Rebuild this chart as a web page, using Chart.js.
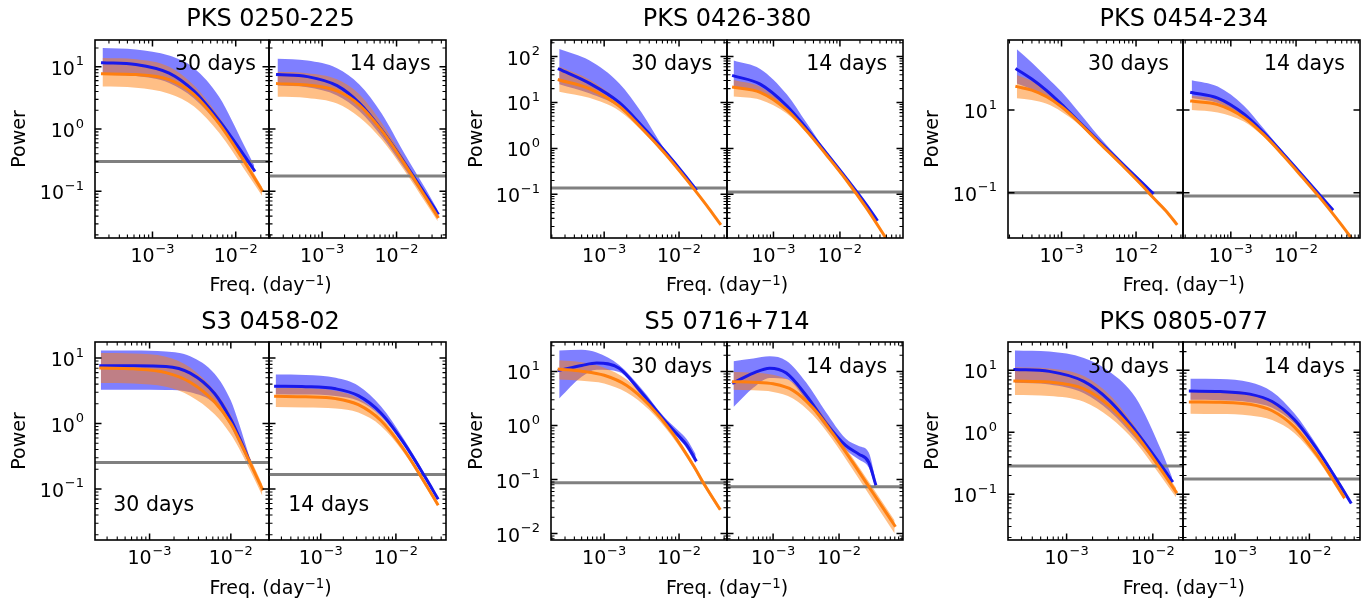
<!DOCTYPE html>
<html><head><meta charset="utf-8">
<script src="https://cdn.jsdelivr.net/npm/chart.js@4.4.1/dist/chart.umd.min.js"></script>
<style>
body{margin:0;background:#fff;width:1369px;height:608px;overflow:hidden;position:relative;font-family:'DejaVu Sans',sans-serif;}
canvas{position:absolute;}
.t{position:absolute;white-space:nowrap;line-height:1;color:#000;font-family:'DejaVu Sans',sans-serif;}
.sup{position:relative;top:-0.45em;font-size:0.7em;}
</style></head><body>
<script>
// ---------------- DATA ----------------
const xTickValues = [1e-3, 1e-2];
const g1_yTicks = [0.1, 1, 10];
const g2_yTicks = [0.1, 1, 10, 100];
const g3_yTicks = [0.1, 10];
const g4_yTicks = [0.1, 1, 10];
const g5_yTicks = [0.01, 0.1, 1, 10];
const g6_yTicks = [0.1, 1, 10];
const titles = ['PKS 0250-225', 'PKS 0426-380', 'PKS 0454-234', 'S3 0458-02', 'S5 0716+714', 'PKS 0805-077'];
const binLabels = ['30 days', '14 days'];

// PKS 0250-225, 30 days
const g1_30_fB = [0.000251, 0.000631, 0.001585, 0.00316, 0.00631, 0.0126, 0.01667];
const g1_30_blue = [11.6, 10.9, 7.9, 4.05, 1.37, 0.377, 0.218];
const g1_30_blueHi = [20, 19, 15.1, 9.5, 3.3, 0.55, 0.26];
const g1_30_blueLo = [7.4, 7.1, 5.5, 3.1, 1.15, 0.33, 0.20];
const g1_30_fO = [0.000251, 0.000631, 0.001585, 0.00316, 0.00631, 0.0126, 0.0207];
const g1_30_orange = [7.7, 7.5, 6.2, 3.57, 1.22, 0.304, 0.104];
const g1_30_orangeHi = [13.8, 13.2, 10, 5.0, 1.58, 0.363, 0.117];
const g1_30_orangeLo = [4.8, 4.6, 3.7, 2.3, 0.87, 0.229, 0.085];
const g1_30_noise = 0.30;
// PKS 0250-225, 14 days
const g1_14_fB = [0.000251, 0.000631, 0.001585, 0.00316, 0.00631, 0.0126, 0.0251, 0.0357];
const g1_14_blue = [7.5, 6.95, 4.97, 2.61, 0.966, 0.296, 0.085, 0.0445];
const g1_14_blueHi = [13.5, 12.6, 9.5, 5.2, 1.78, 0.417, 0.105, 0.050];
const g1_14_blueLo = [5.0, 4.7, 3.47, 1.95, 0.76, 0.24, 0.072, 0.040];
const g1_14_fO = [0.000251, 0.000631, 0.001585, 0.00316, 0.00631, 0.0126, 0.0251, 0.0357];
const g1_14_orange = [5.35, 5.1, 4.1, 2.43, 0.95, 0.284, 0.077, 0.039];
const g1_14_orangeHi = [8.3, 7.9, 6.3, 3.63, 1.26, 0.34, 0.087, 0.044];
const g1_14_orangeLo = [3.3, 3.16, 2.57, 1.55, 0.68, 0.219, 0.063, 0.033];
const g1_14_noise = 0.177;

// PKS 0426-380, 30 days
const g2_30_fB = [0.000251, 0.000631, 0.001585, 0.00316, 0.00631, 0.0126, 0.01667];
const g2_30_blue = [53.1, 26.3, 10, 3.16, 0.912, 0.234, 0.129];
const g2_30_blueHi = [146, 83, 26.3, 6.03, 1.0, 0.24, 0.133];
const g2_30_blueLo = [24.8, 15.8, 7.94, 2.82, 0.851, 0.219, 0.12];
const g2_30_fO = [0.000251, 0.000631, 0.001585, 0.00316, 0.00631, 0.0126, 0.01667, 0.0251, 0.0352];
const g2_30_orange = [30.9, 20, 8.3, 2.75, 0.813, 0.209, 0.117, 0.049, 0.0229];
const g2_30_orangeHi = [60.3, 31.6, 10.5, 3.09, 0.871, 0.224, 0.126, 0.0525, 0.0245];
const g2_30_orangeLo = [17.2, 12.6, 6.6, 2.45, 0.759, 0.195, 0.11, 0.0457, 0.0214];
const g2_30_noise = 0.137;
// PKS 0426-380, 14 days
const g2_14_fB = [0.000251, 0.000631, 0.001585, 0.00316, 0.00631, 0.0126, 0.0251, 0.0357];
const g2_14_blue = [38, 25.1, 8.5, 2.69, 0.776, 0.219, 0.059, 0.0282];
const g2_14_blueHi = [82, 53.7, 15.1, 3.55, 0.83, 0.226, 0.061, 0.029];
const g2_14_blueLo = [21.4, 16.6, 6.9, 2.4, 0.72, 0.204, 0.055, 0.0263];
const g2_14_fO = [0.000251, 0.000631, 0.001585, 0.00316, 0.00631, 0.0126, 0.0251, 0.0501, 0.0708];
const g2_14_orange = [21.4, 16.6, 6.9, 2.4, 0.71, 0.20, 0.050, 0.0107, 0.005];
const g2_14_orangeHi = [30.9, 21.9, 7.9, 2.57, 0.76, 0.214, 0.054, 0.0115, 0.0054];
const g2_14_orangeLo = [13.5, 11.5, 5.75, 2.19, 0.66, 0.186, 0.047, 0.010, 0.0047];
const g2_14_noise = 0.112;

// PKS 0454-234, 30 days
const g3_30_fB = [0.000251, 0.000398, 0.000631, 0.001, 0.001585, 0.00316, 0.00631, 0.0126, 0.01667];
const g3_30_blue = [95.5, 56, 29.5, 13.8, 6.0, 1.78, 0.537, 0.162, 0.10];
const g3_30_blueHi = [295, 141, 63, 27.5, 10.5, 2.34, 0.603, 0.174, 0.107];
const g3_30_blueLo = [43.6, 31.6, 20.9, 11, 5.4, 1.66, 0.50, 0.151, 0.093];
const g3_30_fO = [0.000251, 0.000398, 0.000631, 0.001, 0.001585, 0.00316, 0.00631, 0.0126, 0.01667, 0.0251, 0.0347];
const g3_30_orange = [36.7, 30.2, 20.9, 12, 5.75, 1.66, 0.49, 0.138, 0.079, 0.037, 0.018];
const g3_30_orangeHi = [70, 50, 28.8, 14.8, 6.5, 1.78, 0.525, 0.148, 0.085, 0.040, 0.0195];
const g3_30_orangeLo = [19.3, 17.4, 14.1, 9.1, 5.0, 1.55, 0.457, 0.129, 0.074, 0.035, 0.017];
const g3_30_noise = 0.10;
// PKS 0454-234, 14 days
const g3_14_fB = [0.000251, 0.000631, 0.001585, 0.00316, 0.00631, 0.0126, 0.0251, 0.0357];
const g3_14_blue = [26.4, 19.3, 8.0, 2.88, 0.895, 0.264, 0.0766, 0.0407];
const g3_14_blueHi = [52.5, 36.8, 12.7, 3.63, 0.98, 0.283, 0.082, 0.0437];
const g3_14_blueLo = [19.5, 14.8, 6.6, 2.63, 0.83, 0.245, 0.071, 0.038];
const g3_14_fO = [0.000251, 0.000631, 0.001585, 0.00316, 0.00631, 0.0126, 0.0251, 0.0501, 0.0724];
const g3_14_orange = [16.4, 13.5, 6.6, 2.57, 0.81, 0.234, 0.066, 0.0166, 0.0076];
const g3_14_orangeHi = [22.1, 17.8, 7.6, 2.75, 0.87, 0.25, 0.071, 0.0178, 0.0081];
const g3_14_orangeLo = [10, 8.7, 5.25, 2.29, 0.76, 0.219, 0.062, 0.0155, 0.0071];
const g3_14_noise = 0.0845;

// S3 0458-02, 30 days
const g4_30_fB = [0.000251, 0.000631, 0.001585, 0.00316, 0.00631, 0.01, 0.0126, 0.01667];
const g4_30_blue = [7.64, 7.62, 7.46, 5.9, 2.88, 1.15, 0.625, 0.282];
const g4_30_blueHi = [13.1, 13.0, 12.6, 10.7, 5.75, 2.24, 1.0, 0.33];
const g4_30_blueLo = [3.27, 3.27, 3.24, 3.0, 2.0, 0.89, 0.50, 0.25];
const g4_30_fO = [0.000251, 0.000631, 0.001585, 0.00316, 0.00631, 0.01, 0.0126, 0.01667, 0.0244];
const g4_30_orange = [7.03, 6.84, 6.0, 4.27, 2.14, 1.0, 0.575, 0.275, 0.10];
const g4_30_orangeHi = [11.9, 11.7, 10.5, 7.2, 3.16, 1.35, 0.72, 0.33, 0.117];
const g4_30_orangeLo = [4.17, 4.07, 3.63, 2.63, 1.38, 0.68, 0.42, 0.21, 0.079];
const g4_30_noise = 0.253;
// S3 0458-02, 14 days
const g4_14_fB = [0.000251, 0.000631, 0.001585, 0.00316, 0.00631, 0.0126, 0.0251, 0.0357];
const g4_14_blue = [3.71, 3.66, 3.39, 2.67, 1.45, 0.515, 0.145, 0.0728];
const g4_14_blueHi = [5.6, 5.53, 5.0, 3.78, 1.83, 0.59, 0.158, 0.078];
const g4_14_blueLo = [2.81, 2.77, 2.63, 2.22, 1.29, 0.47, 0.135, 0.068];
const g4_14_fO = [0.000251, 0.000631, 0.001585, 0.00316, 0.00631, 0.0126, 0.0251, 0.0357];
const g4_14_orange = [2.6, 2.56, 2.4, 1.94, 1.11, 0.408, 0.116, 0.059];
const g4_14_orangeHi = [3.5, 3.46, 3.16, 2.44, 1.3, 0.458, 0.127, 0.063];
const g4_14_orangeLo = [1.78, 1.75, 1.7, 1.47, 0.92, 0.364, 0.106, 0.054];
const g4_14_noise = 0.166;

// S5 0716+714, 30 days
const g5_30_fB = [0.000251, 0.000501, 0.000794, 0.001585, 0.00316, 0.00631, 0.01, 0.0126, 0.01667];
const g5_30_blue = [10.5, 12.9, 14.3, 11.5, 4.07, 1.26, 0.63, 0.436, 0.229];
const g5_30_blueHi = [24.5, 25.1, 22.4, 13.2, 4.8, 1.45, 0.78, 0.56, 0.295];
const g5_30_blueLo = [3.16, 7.94, 10.7, 9.8, 3.55, 1.12, 0.56, 0.38, 0.20];
const g5_30_fO = [0.000251, 0.000501, 0.001, 0.002, 0.00398, 0.00794, 0.01585, 0.0207, 0.0347];
const g5_30_orange = [11.0, 10.1, 8.5, 5.5, 2.4, 0.76, 0.174, 0.091, 0.029];
const g5_30_orangeHi = [16.2, 14.8, 11.7, 7.1, 2.82, 0.83, 0.19, 0.1, 0.0316];
const g5_30_orangeLo = [7.1, 6.76, 6.0, 4.07, 1.95, 0.645, 0.155, 0.081, 0.026];
const g5_30_noise = 0.087;
// S5 0716+714, 14 days
const g5_14_fB = [0.000251, 0.000501, 0.000891, 0.001585, 0.00316, 0.00631, 0.0126, 0.01995, 0.0282, 0.0357];
const g5_14_blue = [6.17, 9.33, 11.5, 9.33, 3.63, 1.12, 0.427, 0.295, 0.209, 0.083];
const g5_14_blueHi = [15.5, 17.4, 19.1, 15.8, 6.3, 1.78, 0.575, 0.417, 0.316, 0.1];
const g5_14_blueLo = [2.19, 5.0, 7.6, 7.25, 2.95, 0.93, 0.355, 0.234, 0.166, 0.071];
const g5_14_fO = [0.000251, 0.000501, 0.001, 0.002, 0.00398, 0.00794, 0.01585, 0.0316, 0.0697];
const g5_14_orange = [6.46, 6.3, 5.9, 4.47, 2.14, 0.724, 0.214, 0.060, 0.0141];
const g5_14_orangeHi = [9.8, 9.5, 8.7, 6.3, 2.75, 0.89, 0.257, 0.074, 0.0174];
const g5_14_orangeLo = [4.57, 4.47, 4.17, 3.16, 1.58, 0.55, 0.158, 0.0437, 0.01];
const g5_14_noise = 0.0735;

// PKS 0805-077, 30 days
const g6_30_fB = [0.000251, 0.000631, 0.001585, 0.00316, 0.00631, 0.0126, 0.01667];
const g6_30_blue = [10.3, 9.6, 6.6, 3.21, 1.05, 0.285, 0.164];
const g6_30_blueHi = [20.9, 20, 15.8, 9.5, 3.63, 0.5, 0.19];
const g6_30_blueLo = [6.3, 5.9, 4.27, 2.19, 0.794, 0.24, 0.145];
const g6_30_fO = [0.000251, 0.000631, 0.001585, 0.00316, 0.00631, 0.0126, 0.0186];
const g6_30_orange = [6.71, 6.44, 5.0, 2.63, 0.927, 0.243, 0.109];
const g6_30_orangeHi = [11.2, 10.7, 8.1, 3.98, 1.2, 0.288, 0.126];
const g6_30_orangeLo = [3.98, 3.85, 3.1, 1.74, 0.69, 0.19, 0.089];
const g6_30_noise = 0.286;
// PKS 0805-077, 14 days
const g6_14_fB = [0.000251, 0.000631, 0.001585, 0.00316, 0.00631, 0.0126, 0.0251, 0.0357];
const g6_14_blue = [4.61, 4.54, 4.12, 3.13, 1.59, 0.536, 0.148, 0.074];
const g6_14_blueHi = [7.31, 7.2, 6.38, 4.52, 2.0, 0.617, 0.162, 0.079];
const g6_14_blueLo = [3.34, 3.29, 3.05, 2.48, 1.38, 0.49, 0.138, 0.069];
const g6_14_fO = [0.000251, 0.000631, 0.001585, 0.00316, 0.00631, 0.0126, 0.0291];
const g6_14_orange = [3.08, 3.04, 2.82, 2.22, 1.21, 0.429, 0.0906];
const g6_14_orangeHi = [4.78, 4.71, 4.27, 3.14, 1.52, 0.492, 0.102];
const g6_14_orangeLo = [1.99, 1.96, 1.86, 1.57, 0.96, 0.373, 0.081];
const g6_14_noise = 0.175;

// ---------------- LAYOUT / STYLE ----------------
const BLUE_FILL = 'rgba(0,0,255,0.5)';
const ORANGE_FILL = 'rgba(255,127,14,0.5)';
const BLUE_LINE = 'rgb(25,25,235)';
const ORANGE_LINE = 'rgb(255,127,14)';
const GRAY_LINE = 'rgb(128,128,128)';
const FONT = 'DejaVu Sans';
Chart.defaults.font.family = FONT;

const panels = [
  {l:95, t:40, r:269, b:238, xr:[2.04e-4,0.0251], yr:[0.0178,26.9], yt:g1_yTicks, showY:true, minorY:true,
   d:[g1_30_fB,g1_30_blue,g1_30_blueHi,g1_30_blueLo,g1_30_fO,g1_30_orange,g1_30_orangeHi,g1_30_orangeLo,g1_30_noise]},
  {l:269, t:40, r:446, b:238, xr:[1.93e-4,0.0462], yr:[0.0178,26.9], yt:g1_yTicks, showY:false, minorY:true,
   d:[g1_14_fB,g1_14_blue,g1_14_blueHi,g1_14_blueLo,g1_14_fO,g1_14_orange,g1_14_orangeHi,g1_14_orangeLo,g1_14_noise]},
  {l:551, t:40, r:727, b:238, xr:[1.95e-4,0.0437], yr:[0.0112,229], yt:g2_yTicks, showY:true, minorY:true,
   d:[g2_30_fB,g2_30_blue,g2_30_blueHi,g2_30_blueLo,g2_30_fO,g2_30_orange,g2_30_orangeHi,g2_30_orangeLo,g2_30_noise]},
  {l:727, t:40, r:903, b:238, xr:[2.0e-4,0.0889], yr:[0.0112,229], yt:g2_yTicks, showY:false, minorY:true,
   d:[g2_14_fB,g2_14_blue,g2_14_blueHi,g2_14_blueLo,g2_14_fO,g2_14_orange,g2_14_orangeHi,g2_14_orangeLo,g2_14_noise]},
  {l:1008, t:40, r:1183, b:238, xr:[1.91e-4,0.0427], yr:[0.00813,490], yt:g3_yTicks, showY:true, minorY:false,
   d:[g3_30_fB,g3_30_blue,g3_30_blueHi,g3_30_blueLo,g3_30_fO,g3_30_orange,g3_30_orangeHi,g3_30_orangeLo,g3_30_noise]},
  {l:1183, t:40, r:1360, b:238, xr:[1.85e-4,0.0955], yr:[0.00813,490], yt:g3_yTicks, showY:false, minorY:false,
   d:[g3_14_fB,g3_14_blue,g3_14_blueHi,g3_14_blueLo,g3_14_fO,g3_14_orange,g3_14_orangeHi,g3_14_orangeLo,g3_14_noise]},
  {l:95, t:342, r:269, b:540, xr:[2.13e-4,0.0295], yr:[0.0166,17.6], yt:g4_yTicks, showY:true, minorY:true,
   d:[g4_30_fB,g4_30_blue,g4_30_blueHi,g4_30_blueLo,g4_30_fO,g4_30_orange,g4_30_orangeHi,g4_30_orangeLo,g4_30_noise]},
  {l:269, t:342, r:446, b:540, xr:[2.05e-4,0.0464], yr:[0.0166,17.6], yt:g4_yTicks, showY:false, minorY:true,
   d:[g4_14_fB,g4_14_blue,g4_14_blueHi,g4_14_blueLo,g4_14_fO,g4_14_orange,g4_14_orangeHi,g4_14_orangeLo,g4_14_noise]},
  {l:551, t:342, r:727, b:540, xr:[1.95e-4,0.0437], yr:[0.00759,35.1], yt:g5_yTicks, showY:true, minorY:true,
   d:[g5_30_fB,g5_30_blue,g5_30_blueHi,g5_30_blueLo,g5_30_fO,g5_30_orange,g5_30_orangeHi,g5_30_orangeLo,g5_30_noise]},
  {l:727, t:342, r:903, b:540, xr:[2.0e-4,0.0933], yr:[0.00759,35.1], yt:g5_yTicks, showY:false, minorY:true,
   d:[g5_14_fB,g5_14_blue,g5_14_blueHi,g5_14_blueLo,g5_14_fO,g5_14_orange,g5_14_orangeHi,g5_14_orangeLo,g5_14_noise]},
  {l:1008, t:342, r:1183, b:540, xr:[2.09e-4,0.0224], yr:[0.0182,28.6], yt:g6_yTicks, showY:true, minorY:true,
   d:[g6_30_fB,g6_30_blue,g6_30_blueHi,g6_30_blueLo,g6_30_fO,g6_30_orange,g6_30_orangeHi,g6_30_orangeLo,g6_30_noise]},
  {l:1183, t:342, r:1360, b:540, xr:[2.0e-4,0.0479], yr:[0.0182,28.6], yt:g6_yTicks, showY:false, minorY:true,
   d:[g6_14_fB,g6_14_blue,g6_14_blueHi,g6_14_blueLo,g6_14_fO,g6_14_orange,g6_14_orangeHi,g6_14_orangeLo,g6_14_noise]},
];

function minorsIn(min, max){
  const out = [];
  for (let e = Math.floor(Math.log10(min)); e <= Math.ceil(Math.log10(max)); e++)
    for (let m = 2; m <= 9; m++){ const v = m * Math.pow(10, e); if (v >= min && v <= max) out.push(v); }
  return out;
}
function pts(f, v){ return f.map((x, i) => ({x: x, y: v[i]})); }

// "10" with a raised exponent, like matplotlib's mathtext tick labels
function drawPow(ctx, v, x, baseline, align){
  const e = Math.round(Math.log10(v));
  const base = '10', ex = (e < 0 ? '\u2212' : '') + Math.abs(e);
  ctx.font = '19px "' + FONT + '"'; const wb = ctx.measureText(base).width;
  ctx.font = '13px "' + FONT + '"'; const we = ctx.measureText(ex).width;
  const gap = 0.8, total = wb + gap + we;
  const x0 = align === 'right' ? x - total : x - total / 2;
  ctx.fillStyle = '#000'; ctx.textAlign = 'left'; ctx.textBaseline = 'alphabetic';
  ctx.font = '19px "' + FONT + '"'; ctx.fillText(base, x0, baseline);
  ctx.font = '13px "' + FONT + '"'; ctx.fillText(ex, x0 + wb + gap, baseline - 9.5);
}

const framePlugin = {
  id: 'frame',
  afterDraw(chart, args, o){
    const {ctx, chartArea: a} = chart;
    const xs = chart.scales.x, ys = chart.scales.y;
    ctx.save();
    ctx.strokeStyle = '#000';
    const tickX = (vals, len, w) => {
      ctx.lineWidth = w; ctx.beginPath();
      vals.forEach(v => { const p = xs.getPixelForValue(v); if (p < a.left - 0.5 || p > a.right + 0.5) return;
        ctx.moveTo(p, a.bottom); ctx.lineTo(p, a.bottom - len); ctx.moveTo(p, a.top); ctx.lineTo(p, a.top + len); });
      ctx.stroke();
    };
    const tickY = (vals, len, w) => {
      ctx.lineWidth = w; ctx.beginPath();
      vals.forEach(v => { const p = ys.getPixelForValue(v); if (p < a.top - 0.5 || p > a.bottom + 0.5) return;
        ctx.moveTo(a.left, p); ctx.lineTo(a.left + len, p); ctx.moveTo(a.right, p); ctx.lineTo(a.right - len, p); });
      ctx.stroke();
    };
    tickX(minorsIn(xs.min, xs.max), 3.5, 1.1);
    tickX(xTickValues, 6.5, 1.5);
    if (o.minorY) tickY(minorsIn(ys.min, ys.max), 3.5, 1.1);
    tickY(o.yt, 6.5, 1.5);
    ctx.lineWidth = 1.6;
    ctx.strokeRect(a.left, a.top, a.right - a.left, a.bottom - a.top);
    // tick labels, placed by the chart's own log scales
    xTickValues.forEach(v => drawPow(ctx, v, xs.getPixelForValue(v), a.bottom + 24, 'center'));
    if (o.showY) o.yt.forEach(v => drawPow(ctx, v, a.left - 11, ys.getPixelForValue(v) + 8, 'right'));
    ctx.restore();
  }
};

const PADL = 90, PADT = 20, PADR = 10, PADB = 45;
panels.forEach(p => {
  const c = document.createElement('canvas');
  const W = (p.r - p.l) + PADL + PADR, H = (p.b - p.t) + PADT + PADB;
  c.width = W; c.height = H;
  c.style.left = (p.l - PADL) + 'px'; c.style.top = (p.t - PADT) + 'px';
  c.style.width = W + 'px'; c.style.height = H + 'px';
  document.body.appendChild(c);
  const [fB, blue, blueHi, blueLo, fO, orange, orangeHi, orangeLo, noise] = p.d;
  const common = {pointRadius: 0, cubicInterpolationMode: 'monotone'};
  const datasets = [
    Object.assign({data: pts(fB, blueHi), fill: '+1', backgroundColor: BLUE_FILL, borderWidth: 0, order: 5}, common),
    Object.assign({data: pts(fB, blueLo), fill: false, borderWidth: 0, order: 5}, common),
    Object.assign({data: pts(fO, orangeHi), fill: '+1', backgroundColor: ORANGE_FILL, borderWidth: 0, order: 4}, common),
    Object.assign({data: pts(fO, orangeLo), fill: false, borderWidth: 0, order: 4}, common),
    {data: [{x: p.xr[0], y: noise}, {x: p.xr[1], y: noise}], fill: false, borderColor: GRAY_LINE, borderWidth: 3, pointRadius: 0, order: 3},
    Object.assign({data: pts(fB, blue), fill: false, borderColor: BLUE_LINE, borderWidth: 3, borderCapStyle: 'square', order: 2}, common),
    Object.assign({data: pts(fO, orange), fill: false, borderColor: ORANGE_LINE, borderWidth: 3, borderCapStyle: 'square', order: 1}, common),
  ];
  new Chart(c, {
    type: 'line',
    data: {datasets},
    options: {
      responsive: false, animation: false, events: [], devicePixelRatio: 1,
      layout: {padding: {left: PADL, top: PADT, right: PADR, bottom: PADB}},
      plugins: {legend: {display: false}, tooltip: {enabled: false}, frame: {minorY: p.minorY, yt: p.yt, showY: p.showY}},
      scales: {
        x: {type: 'logarithmic', display: false, min: p.xr[0], max: p.xr[1], bounds: 'data'},
        y: {type: 'logarithmic', display: false, min: p.yr[0], max: p.yr[1], bounds: 'data'}
      }
    },
    plugins: [framePlugin]
  });
});

// ---------------- TEXT ----------------
function addText(html, x, baseline, size, align, rotate){
  const d = document.createElement('div');
  d.className = 't';
  d.innerHTML = html;
  d.style.fontSize = size + 'px';
  if (rotate){
    d.style.left = x + 'px'; d.style.top = baseline + 'px';
    d.style.transform = 'translate(-50%,-50%) rotate(-90deg)';
  } else {
    d.style.left = x + 'px';
    d.style.top = (baseline - 0.846 * size) + 'px';
    d.style.transform = align === 'center' ? 'translateX(-50%)' : (align === 'right' ? 'translateX(-100%)' : 'none');
  }
  document.body.appendChild(d);
}
const groupCenters = [270.5, 727, 1183.8];
const powerX = [18, 474.5, 931];
[0, 1].forEach(row => {
  groupCenters.forEach((cx, gi) => {
    addText(titles[row * 3 + gi], cx, row ? 329.2 : 26.7, 24, 'center');
    addText('Freq. (day<span class="sup">\u22121</span>)', cx, row ? 593.9 : 291.2, 19, 'center');
    addText('Power', powerX[gi], row ? 441 : 139, 19, null, true);
  });
});
// bin-size annotations
[[256, 430.7], [712.3, 887.3], [1169, 1345]].forEach(([r30, r14]) => {
  addText(binLabels[0], r30, 70, 20.5, 'right');
  addText(binLabels[1], r14, 70, 20.5, 'right');
});
addText(binLabels[0], 113.3, 511.5, 20.5, 'left');
addText(binLabels[1], 288.3, 511.5, 20.5, 'left');
[[712.3, 887.3], [1169, 1345]].forEach(([r30, r14]) => {
  addText(binLabels[0], r30, 373.3, 20.5, 'right');
  addText(binLabels[1], r14, 373.3, 20.5, 'right');
});
</script></body></html>
